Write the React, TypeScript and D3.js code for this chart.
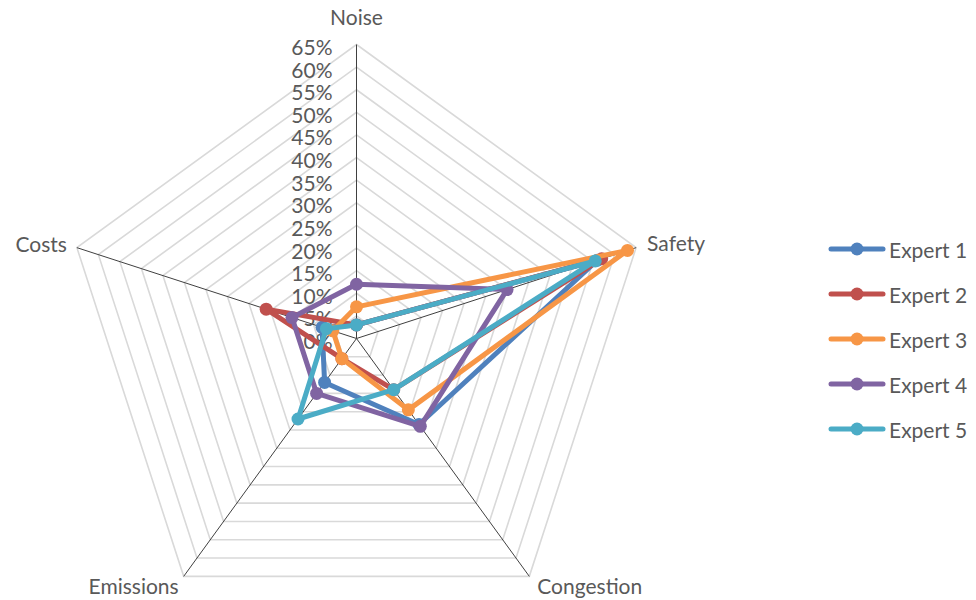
import React from "react";
import * as d3 from "d3";

// Radar chart: five experts' percentage weights across five criteria
const categories = ["Noise", "Safety", "Congestion", "Emissions", "Costs"];
const seriesNames = ["Expert 1", "Expert 2", "Expert 3", "Expert 4", "Expert 5"];
const expert1 = [3, 56, 23.5, 12, 8];
const expert2 = [3, 57, 14, 5.5, 21];
const expert3 = [7, 63, 19.5, 5.5, 5.5];
const expert4 = [12, 35, 24, 15, 15];
const expert5 = [3, 55.5, 14, 22, 7];
const seriesValues = [expert1, expert2, expert3, expert4, expert5];
const seriesColors = ["#4F81BD", "#C0504D", "#F79646", "#8064A2", "#4BACC6"];
const tickValues = [0, 5, 10, 15, 20, 25, 30, 35, 40, 45, 50, 55, 60, 65];

const W = 976;
const H = 600;
const cx = 356.5;
const cy = 338.5;
const R = 294;
const FONT = "Lato, 'Open Sans', sans-serif";
const TEXT = "#595959";

export default function App() {
  const r = d3.scaleLinear().domain([0, 65]).range([0, R]);
  const angle = d3
    .scalePoint<string>()
    .domain(categories)
    .range([0, (2 * Math.PI * (categories.length - 1)) / categories.length]);

  const pt = (cat: string, v: number): [number, number] => {
    const a = angle(cat)!;
    return [cx + r(v) * Math.sin(a), cy - r(v) * Math.cos(a)];
  };

  const closedLine = d3
    .line<[number, number]>()
    .x((d) => d[0])
    .y((d) => d[1])
    .curve(d3.curveLinearClosed);

  const labelPos: Record<string, { dx: number; dy: number; anchor: string }> = {
    Noise: { dx: 0, dy: -28, anchor: "middle" },
    Safety: { dx: 11, dy: -5, anchor: "start" },
    Congestion: { dx: 8, dy: 9, anchor: "start" },
    Emissions: { dx: -5, dy: 9, anchor: "end" },
    Costs: { dx: -10, dy: -4, anchor: "end" },
  };

  return (
    <div style={{ position: "fixed", left: 0, top: 0 }}>
      <svg width={W} height={H} style={{ display: "block", background: "#fff" }}>
        {/* grid rings */}
        <g>
          {tickValues.slice(1).map((t) => (
            <path
              key={t}
              d={closedLine(categories.map((c) => pt(c, t)))!}
              fill="none"
              stroke="#d9d9d9"
              strokeWidth={1.6}
            />
          ))}
        </g>
        {/* spokes */}
        <g>
          {categories.map((c) => {
            const [x, y] = pt(c, 65);
            return <line key={c} x1={cx} y1={cy} x2={x} y2={y} stroke="#404040" strokeWidth={1} />;
          })}
        </g>
        {/* tick labels */}
        <g fontFamily={FONT} fontSize={21} fill={TEXT} textAnchor="end">
          {tickValues.map((t) => (
            <text key={t} x={cx - 24} y={cy - r(t) + 2} dominantBaseline="central">
              {t}%
            </text>
          ))}
        </g>
        {/* category labels */}
        <g fontFamily={FONT} fontSize={21} fill={TEXT}>
          {categories.map((c) => {
            const [x, y] = pt(c, 65);
            const p = labelPos[c];
            return (
              <text
                key={c}
                x={x + p.dx}
                y={y + p.dy}
                textAnchor={p.anchor}
                dominantBaseline="central"
              >
                {c}
              </text>
            );
          })}
        </g>
        {/* series */}
        {seriesValues.map((vals, i) => {
          const pts = categories.map((c, j) => pt(c, vals[j]));
          return (
            <g key={seriesNames[i]}>
              <path
                d={closedLine(pts)!}
                fill="none"
                stroke={seriesColors[i]}
                strokeWidth={5}
                strokeLinejoin="round"
              />
              {pts.map((p, j) => (
                <circle key={j} cx={p[0]} cy={p[1]} r={6.5} fill={seriesColors[i]} />
              ))}
            </g>
          );
        })}
        {/* legend */}
        <g fontFamily={FONT} fontSize={21} fill={TEXT}>
          {seriesNames.map((n, i) => {
            const y = 249 + i * 45;
            return (
              <g key={n}>
                <line
                  x1={831}
                  x2={883}
                  y1={y}
                  y2={y}
                  stroke={seriesColors[i]}
                  strokeWidth={5}
                  strokeLinecap="round"
                />
                <circle cx={857} cy={y} r={6.5} fill={seriesColors[i]} />
                <text x={889} y={y} dominantBaseline="central">
                  {n}
                </text>
              </g>
            );
          })}
        </g>
      </svg>
    </div>
  );
}
